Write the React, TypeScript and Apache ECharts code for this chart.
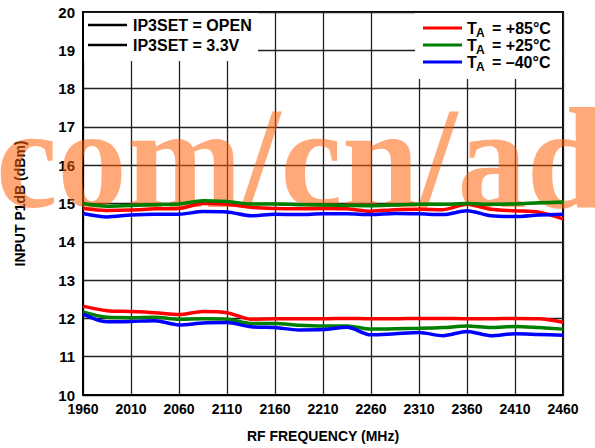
import React, { useEffect, useRef } from "react";
import * as echarts from "echarts";

const freqs = [1960, 1985, 2010, 2035, 2060, 2085, 2110, 2135, 2160, 2185, 2210, 2235, 2260, 2285, 2310, 2335, 2360, 2385, 2410, 2435, 2460];

// Upper group (around 15 dBm)
const redHigh = [14.87, 14.82, 14.83, 14.86, 14.87, 15.0, 14.98, 14.9, 14.87, 14.86, 14.87, 14.86, 14.8, 14.84, 14.85, 14.84, 14.98, 14.85, 14.81, 14.77, 14.6];
const greenHigh = [15.0, 14.93, 14.95, 14.97, 14.99, 15.07, 15.05, 14.99, 14.99, 14.97, 14.96, 14.95, 14.94, 14.96, 14.98, 14.98, 15.0, 14.98, 14.99, 15.02, 15.04];
const blueHigh = [14.74, 14.65, 14.7, 14.72, 14.72, 14.79, 14.78, 14.68, 14.72, 14.71, 14.73, 14.73, 14.71, 14.74, 14.73, 14.71, 14.81, 14.68, 14.66, 14.7, 14.72];

// Lower group (around 12 dBm)
const redLow = [12.32, 12.2, 12.18, 12.15, 12.1, 12.18, 12.15, 11.98, 11.99, 11.99, 11.99, 12.0, 11.99, 11.99, 12.0, 12.0, 11.99, 11.99, 12.0, 11.99, 11.9];
const greenLow = [12.17, 12.03, 12.02, 12.03, 11.98, 11.99, 11.98, 11.87, 11.87, 11.82, 11.8, 11.8, 11.72, 11.73, 11.74, 11.76, 11.8, 11.76, 11.79, 11.76, 11.72];
const blueLow = [12.11, 11.91, 11.92, 11.94, 11.83, 11.88, 11.89, 11.78, 11.76, 11.7, 11.71, 11.77, 11.57, 11.6, 11.63, 11.55, 11.66, 11.55, 11.6, 11.58, 11.56];

const xTicks = [1960, 2010, 2060, 2110, 2160, 2210, 2260, 2310, 2360, 2410, 2460];
const yTicks = [10, 11, 12, 13, 14, 15, 16, 17, 18, 19, 20];

const ipLegend = ["IP3SET = OPEN", "IP3SET = 3.3V"];
const tempLegend = ["= +85°C", "= +25°C", "= –40°C"];
const tempColors = ["#ff0000", "#008000", "#0000ff"];
const watermark = "com/cn/ad";

const FONT = "'Liberation Sans', Arial, sans-serif";

export default function App() {
  const ref = useRef<HTMLDivElement>(null);
  useEffect(() => {
    if (!ref.current) return;
    const chart = echarts.init(ref.current, undefined, { renderer: "svg" });
    const mk = (vals: number[]) => freqs.map((f, i) => [f, vals[i]]);
    const series: any[] = [];
    const groups = [
      [redHigh, greenHigh, blueHigh],
      [redLow, greenLow, blueLow],
    ];
    groups.forEach((g, gi) => {
      g.forEach((vals, ci) => {
        series.push({
          type: "line",
          name: `s${gi}${ci}`,
          data: mk(vals),
          showSymbol: false,
          smooth: 0.3,
          z: 3,
          lineStyle: { color: tempColors[ci], width: 3.5 },
        });
      });
    });

    const graphics: any[] = [
      {
        type: "text",
        x: -4,
        y: 158,
        scaleX: 0.955,
        z: 1,
        silent: true,
        style: {
          text: watermark,
          font: "bold 145px 'Liberation Serif', 'Times New Roman', serif",
          fill: "rgba(255,90,0,0.53)",
          verticalAlign: "middle",
        },
      },
      { type: "rect", z: 5, shape: { x: 84, y: 13, width: 174, height: 48 }, style: { fill: "#fff" } },
      { type: "rect", z: 5, shape: { x: 415, y: 13, width: 147, height: 66 }, style: { fill: "#fff" } },
    ];
    ipLegend.forEach((t, i) => {
      const y = 25 + i * 20;
      graphics.push({ type: "line", z: 6, shape: { x1: 88, y1: y, x2: 127, y2: y }, style: { stroke: "#000", lineWidth: 2.5 } });
      graphics.push({
        type: "text", z: 6, x: 133, y,
        style: { text: t, font: `bold 16px ${FONT}`, fill: "#000", verticalAlign: "middle" },
      });
    });
    tempLegend.forEach((t, i) => {
      const y = 28 + i * 17;
      graphics.push({ type: "line", z: 6, shape: { x1: 423, y1: y, x2: 462, y2: y }, style: { stroke: tempColors[i], lineWidth: 3 } });
      graphics.push({ type: "text", z: 6, x: 467, y, style: { text: "T", font: `bold 16px ${FONT}`, fill: "#000", verticalAlign: "middle" } });
      graphics.push({ type: "text", z: 6, x: 476, y: y + 5, style: { text: "A", font: `bold 12px ${FONT}`, fill: "#000", verticalAlign: "middle" } });
      graphics.push({ type: "text", z: 6, x: 492, y, style: { text: t, font: `bold 16px ${FONT}`, fill: "#000", verticalAlign: "middle" } });
    });

    chart.setOption({
      animation: false,
      backgroundColor: "#fff",
      grid: { left: 83, right: 32, top: 12, bottom: 53, show: true, borderColor: "#000", borderWidth: 2, z: 0 },
      xAxis: {
        type: "value",
        min: xTicks[0],
        max: xTicks[xTicks.length - 1],
        interval: 50,
        axisLine: { show: true, lineStyle: { color: "#000", width: 2 } },
        axisTick: { show: false },
        splitLine: { show: true, lineStyle: { color: "#222", width: 1.3 } },
        axisLabel: { color: "#000", fontWeight: "bold", fontSize: 14, fontFamily: FONT, margin: 7, formatter: (v: number) => String(v) },
        name: "RF FREQUENCY (MHz)",
        nameLocation: "middle",
        nameGap: 34,
        nameTextStyle: { color: "#000", fontWeight: "bold", fontSize: 14, fontFamily: FONT },
      },
      yAxis: {
        type: "value",
        min: yTicks[0],
        max: yTicks[yTicks.length - 1],
        interval: 1,
        axisLine: { show: true, lineStyle: { color: "#000", width: 2 } },
        axisTick: { show: false },
        splitLine: { show: true, lineStyle: { color: "#222", width: 1.3 } },
        axisLabel: { color: "#000", fontWeight: "bold", fontSize: 15, fontFamily: FONT, margin: 8 },
        name: "INPUT P1dB (dBm)",
        nameLocation: "middle",
        nameGap: 56,
        nameTextStyle: { color: "#000", fontWeight: "bold", fontSize: 14, fontFamily: FONT },
      },
      graphic: graphics,
      series,
    });
    return () => chart.dispose();
  }, []);
  return <div ref={ref} style={{ width: 595, height: 448, position: "absolute", left: 0, top: 0 }} />;
}
